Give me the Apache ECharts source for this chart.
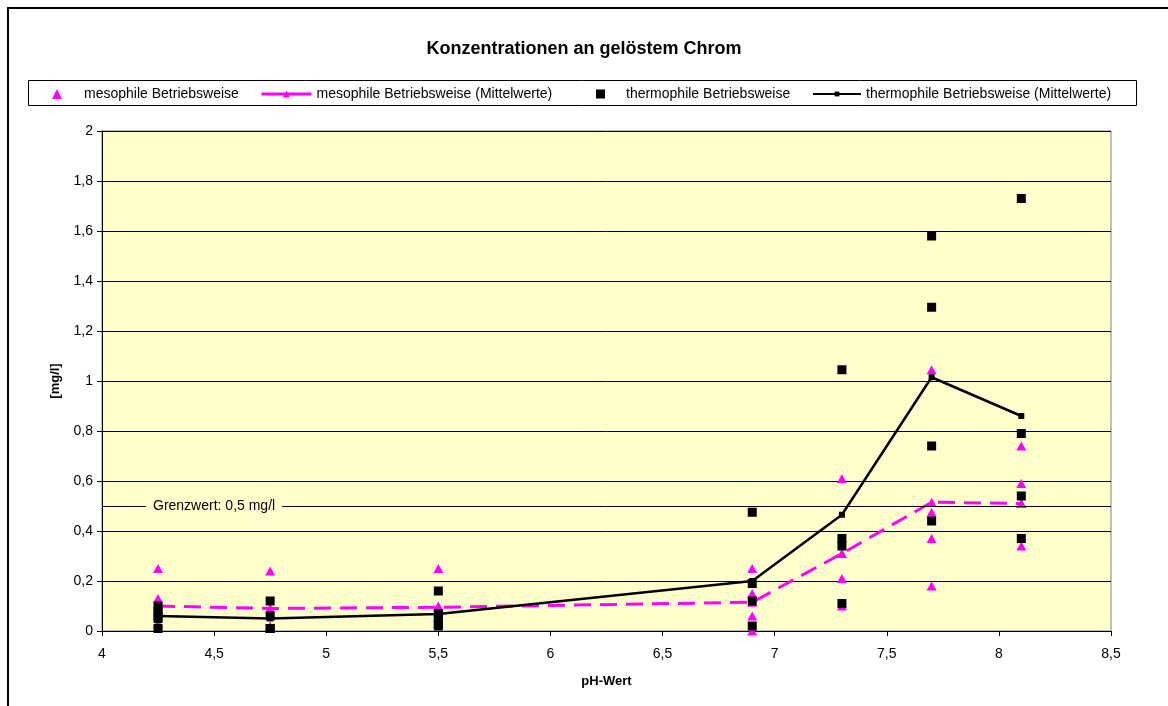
<!DOCTYPE html>
<html>
<head>
<meta charset="utf-8">
<script src="https://cdn.jsdelivr.net/npm/echarts@6/dist/echarts.min.js"></script>
<style>
  html, body { margin: 0; padding: 0; background: #fff; }
  #chart { width: 1168px; height: 706px; }
</style>
</head>
<body>
<div id="chart"></div>
<script>
// pH levels at which samples were taken
const phLevels = [4.25, 4.75, 5.5, 6.9, 7.3, 7.7, 8.1];

// Dissolved chromium [mg/l], individual samples per pH level
const mesoSamples = [
  [0.25, 0.13, 0.06, 0.03, 0.03],
  [0.24, 0.09, 0.02, 0.01],
  [0.25, 0.10, 0.06, 0.03, 0.03],
  [0.25, 0.15, 0.06, 0.0],
  [0.61, 0.31, 0.21, 0.10],
  [1.045, 0.475, 0.37, 0.18],
  [0.74, 0.59, 0.51, 0.34]
];
const thermoSamples = [
  [0.10, 0.08, 0.06, 0.05, 0.01],
  [0.12, 0.06, 0.01, 0.01],
  [0.16, 0.07, 0.05, 0.03, 0.02],
  [0.475, 0.19, 0.12, 0.02],
  [1.045, 0.37, 0.34, 0.11],
  [1.58, 1.295, 0.74, 0.44],
  [1.73, 0.79, 0.54, 0.37]
];

// Mean values per pH level
const mesoMeans = [0.10, 0.09, 0.095, 0.115, 0.31, 0.515, 0.51];
const thermoMeans = [0.06, 0.05, 0.068, 0.20, 0.465, 1.015, 0.86];

// Limit value
const GRENZWERT = 0.5;
const grenzwertText = 'Grenzwert: 0,5 mg/l';

const seriesNames = [
  'mesophile Betriebsweise',
  'mesophile Betriebsweise (Mittelwerte)',
  'thermophile Betriebsweise',
  'thermophile Betriebsweise (Mittelwerte)'
];

const FONT = '"Liberation Sans", Arial, sans-serif';
const MAGENTA = '#FF00FF';

function pairs(levels, groups) {
  const out = [];
  groups.forEach((g, i) => g.forEach(v => out.push([levels[i], v])));
  return out;
}
function line(levels, vals) {
  return vals.map((v, i) => [levels[i], v]);
}
function comma(v) {
  return String(+v.toFixed(2)).replace('.', ',');
}

const legendBase = {
  padding: 0,
  selectedMode: false,
  textStyle: { fontFamily: FONT, fontSize: 14, color: '#000' }
};

const chart = echarts.init(document.getElementById('chart'), null, { renderer: 'canvas' });

const option = {
  animation: false,
  backgroundColor: '#fff',
  title: {
    text: 'Konzentrationen an gelöstem Chrom',
    left: 'center',
    top: 35,
    textStyle: { fontFamily: FONT, fontSize: 18, fontWeight: 'bold', color: '#000' }
  },
  legend: [
    Object.assign({}, legendBase, {
      left: 52, top: 87, itemWidth: 10, itemHeight: 10,
      data: [seriesNames[0]],
      textStyle: Object.assign({}, legendBase.textStyle, { padding: [0, 0, 0, 17] })
    }),
    Object.assign({}, legendBase, {
      left: 260, top: 87, itemWidth: 50, itemHeight: 9,
      lineStyle: { type: 'solid', width: 3 },
      data: [seriesNames[1]]
    }),
    Object.assign({}, legendBase, {
      left: 596, top: 87, itemWidth: 9, itemHeight: 9,
      data: [seriesNames[2]],
      textStyle: Object.assign({}, legendBase.textStyle, { padding: [0, 0, 0, 16] })
    }),
    Object.assign({}, legendBase, {
      left: 812, top: 87, itemWidth: 48, itemHeight: 6,
      data: [seriesNames[3]]
    })
  ],
  grid: {
    left: 102, right: 57, top: 131, bottom: 75,
    show: true,
    backgroundColor: '#FFFFCC',
    borderColor: '#808080',
    borderWidth: 1
  },
  xAxis: {
    type: 'value',
    min: 4, max: 8.5, interval: 0.5,
    name: 'pH-Wert',
    nameLocation: 'middle',
    nameGap: 44,
    nameTextStyle: { fontFamily: FONT, fontSize: 13, fontWeight: 'bold', color: '#000' },
    axisLine: { onZero: false, lineStyle: { color: '#000', width: 1 } },
    axisTick: { show: true, inside: false, length: 5, lineStyle: { color: '#000' } },
    axisLabel: { fontFamily: FONT, fontSize: 14, color: '#000', margin: 16, formatter: comma },
    splitLine: { show: false }
  },
  yAxis: {
    type: 'value',
    min: 0, max: 2, interval: 0.2,
    name: '[mg/l]',
    nameLocation: 'middle',
    nameRotate: 90,
    nameGap: 40,
    nameTextStyle: { fontFamily: FONT, fontSize: 13, fontWeight: 'bold', color: '#000' },
    axisLine: { show: true, lineStyle: { color: '#000', width: 1 } },
    axisTick: { show: true, inside: false, length: 5, lineStyle: { color: '#000' } },
    axisLabel: { fontFamily: FONT, fontSize: 14, color: '#000', margin: 9, formatter: comma },
    splitLine: { show: true, lineStyle: { color: '#000', width: 1 } }
  },
  series: [
    {
      name: seriesNames[0],
      type: 'scatter',
      symbol: 'triangle',
      symbolSize: [10, 9],
      itemStyle: { color: MAGENTA, opacity: 1 },
      data: pairs(phLevels, mesoSamples),
      z: 2,
      markLine: {
        silent: true,
        symbol: 'none',
        label: { show: false },
        lineStyle: { color: '#000', width: 1, type: 'solid' },
        data: [{ yAxis: GRENZWERT }]
      }
    },
    {
      name: seriesNames[1],
      type: 'line',
      symbol: 'triangle',
      symbolSize: [10, 9],
      showAllSymbol: true,
      itemStyle: { color: MAGENTA, opacity: 1 },
      lineStyle: { color: MAGENTA, width: 3, type: [17, 9] },
      data: line(phLevels, mesoMeans),
      z: 3
    },
    {
      name: seriesNames[2],
      type: 'scatter',
      symbol: 'rect',
      symbolSize: 9,
      itemStyle: { color: '#000', opacity: 1 },
      data: pairs(phLevels, thermoSamples),
      z: 4
    },
    {
      name: seriesNames[3],
      type: 'line',
      symbol: 'rect',
      symbolSize: 6,
      showAllSymbol: true,
      itemStyle: { color: '#000', opacity: 1 },
      lineStyle: { color: '#000', width: 2.5 },
      data: line(phLevels, thermoMeans),
      z: 5
    }
  ],
  graphic: [
    {
      id: 'frame', type: 'rect', silent: true, z: 100,
      shape: { x: 8, y: 8, width: 1200, height: 800 },
      style: { fill: 'none', stroke: '#000', lineWidth: 2 }
    },
    {
      id: 'legendBox', type: 'rect', silent: true, z: 0,
      shape: { x: 28.5, y: 80.5, width: 1108, height: 25 },
      style: { fill: '#fff', stroke: '#000', lineWidth: 1 }
    }
  ]
};

chart.setOption(option);

// Label for the limit line, placed on the line through the axis scale
const limitY = chart.convertToPixel({ yAxisIndex: 0 }, GRENZWERT);
const limitX = chart.convertToPixel({ xAxisIndex: 0 }, 4) + 44;
chart.setOption({
  graphic: [
    {
      id: 'limitLabel', type: 'text', silent: true, z: 50,
      x: limitX, y: limitY,
      style: {
        text: grenzwertText,
        fontFamily: FONT, fontSize: 14, fill: '#000',
        verticalAlign: 'middle', align: 'left',
        backgroundColor: '#FFFFCC',
        padding: [3, 7]
      }
    }
  ]
});
</script>
</body>
</html>
